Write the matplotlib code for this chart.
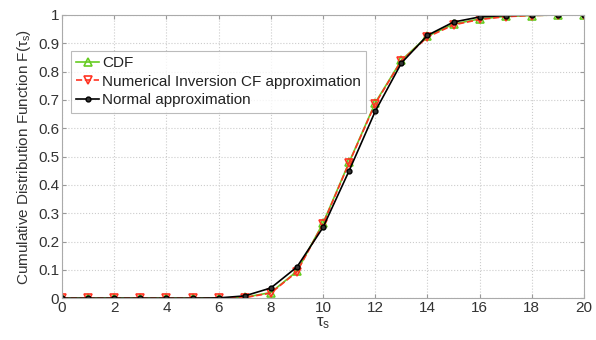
import numpy as np
import matplotlib
matplotlib.use("Agg")
import matplotlib.pyplot as plt

plt.rcParams['font.family'] = ['Liberation Sans', 'DejaVu Sans']
plt.rcParams['mathtext.fontset'] = 'custom'
plt.rcParams['mathtext.rm'] = 'Liberation Sans'
plt.rcParams['mathtext.it'] = 'Liberation Sans'

tau = np.arange(0, 21)
cdf = [0, 0, 0, 0, 0, 0, 0, 0.003, 0.02, 0.095, 0.265, 0.48, 0.69, 0.84,
       0.925, 0.968, 0.986, 0.995, 0.998, 1.0, 1.0]
inversion = [0, 0, 0, 0, 0, 0, 0, 0.002, 0.018, 0.093, 0.262, 0.478, 0.687, 0.838,
             0.922, 0.965, 0.984, 0.994, 0.998, 1.0, 1.0]
normal = [0, 0, 0, 0, 0, 0, 0.001, 0.008, 0.036, 0.11, 0.25, 0.45, 0.66, 0.83,
          0.928, 0.975, 0.993, 0.998, 1.0, 1.0, 1.0]
xticks = np.arange(0, 21, 2)
yticks = np.round(np.arange(0, 1.01, 0.1), 1)
ytick_labels = ['0'] + ['%.1f' % v for v in yticks[1:-1]] + ['1']

fig = plt.figure(figsize=(5.96, 3.40), dpi=100)
ax = fig.add_axes([0.104, 0.123, 0.876, 0.833])

ax.plot(tau, cdf, '-', color='#66cc22', lw=1.2, marker='^', ms=6,
        mfc='none', mec='#66cc22', mew=1.2, label='CDF')
ax.plot(tau, inversion, '--', color='#ff3322', lw=1.2, marker='v', ms=6,
        mfc='none', mec='#ff3322', mew=1.2, label='Numerical Inversion CF approximation')
ax.plot(tau, normal, '-', color='black', lw=1.2, marker='o', ms=3.5,
        mfc='#333333', mec='black', label='Normal approximation')

ax.set_xlim(0, 20)
ax.set_ylim(0, 1)
ax.set_xticks(xticks)
ax.set_yticks(yticks)
ax.set_yticklabels(ytick_labels)
ax.grid(True, linestyle=':', color='#cccccc', lw=0.8)
ax.tick_params(direction='in', top=True, right=True, length=3,
               labelsize=11, colors='#999999', labelcolor='#333333', pad=2)
for s in ax.spines.values():
    s.set_color('#aaaaaa')

ax.set_xlabel(r'$\tau_s$', fontsize=12, color='#333333', labelpad=0)
ax.set_ylabel(r'Cumulative Distribution Function F($\tau_s$)', fontsize=11,
              color='#333333', labelpad=4)

leg = ax.legend(loc='upper left', bbox_to_anchor=(0.008, 0.89), fontsize=11,
                frameon=True, fancybox=False, handlelength=1.5,
                handletextpad=0.2, borderpad=0.35, labelspacing=0.3,
                borderaxespad=0.3)
leg.get_frame().set_edgecolor('#aaaaaa')
leg.get_frame().set_linewidth(0.8)
for t in leg.get_texts():
    t.set_color('#222222')

fig.savefig('out.png', dpi=100)
